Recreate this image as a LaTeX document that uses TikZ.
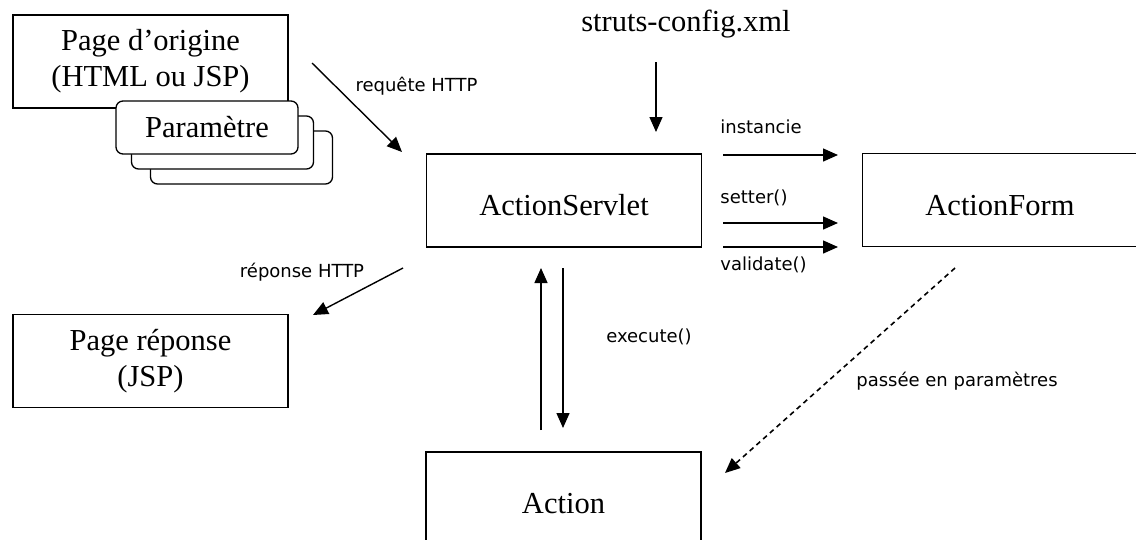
\documentclass[tikz,border=0pt]{standalone}
\usepackage{fontspec}
\setmainfont{Liberation Serif}
\newfontfamily\lblfont{DejaVu Sans}
\usetikzlibrary{arrows.meta}
\begin{document}
\begin{tikzpicture}[x=1pt,y=-1pt,
  box/.style={draw, line width=1.3pt, minimum width=275pt, minimum height=93pt, inner sep=0pt, align=center, font=\fontsize{30.5}{36}\selectfont},
  onebox/.style={box, text height=30pt, text depth=0pt},
  parbox/.style={draw, fill=white, rounded corners=7pt, line width=1.3pt, minimum width=182pt, minimum height=53pt, inner sep=0pt, font=\fontsize{30.5}{36}\selectfont},
  lbl/.style={font=\lblfont\fontsize{18}{22}\selectfont, anchor=base, inner sep=0pt},
  serifl/.style={font=\fontsize{30.5}{36}\selectfont, anchor=base, inner sep=0pt},
  arr/.style={line width=1.4pt, -{Triangle[length=15pt,width=13pt]}},
  dasharr/.style={arr, line width=1.6pt, dash pattern=on 5pt off 4pt},
]
\clip (0,0) rectangle (1136,539);
\useasboundingbox (0,0) rectangle (1136,539);

% boxes
\node[box] (orig) at (150.5,61.5) {Page d’origine\\(HTML ou JSP)};
\node[parbox] (p3) at (241.5,157.5) {};
\node[parbox] (p2) at (222.5,142.5) {};
\node[parbox] (p1) at (207,127.5) {Paramètre};
\node[onebox] (servlet) at (564,200.5) {ActionServlet};
\node[onebox] (form) at (1000,200) {ActionForm};
\node[box] (rep) at (150.5,361) {Page réponse\\(JSP)};
\node[onebox] (action) at (563.5,498.5) {Action};
\node[serifl] (cfg) at (686,31) {struts-config.xml};

% connector end points
\coordinate (reqS) at (312,63);
\coordinate (reqE) at (402,152);
\coordinate (cfgS) at (656,62);
\coordinate (cfgE) at (656,132);
\coordinate (instS) at (723,155);
\coordinate (instE) at (838,155);
\coordinate (setS) at (723,223);
\coordinate (setE) at (838,223);
\coordinate (valS) at (723,247);
\coordinate (valE) at (838,247);
\coordinate (repS) at (403,268);
\coordinate (repE) at (313,315);
\coordinate (upS) at (541,430);
\coordinate (upE) at (541,268);
\coordinate (dnS) at (563,268);
\coordinate (dnE) at (563,428);
\coordinate (paS) at (955,268);
\coordinate (paE) at (725,473);

% connectors
\draw[arr] (reqS) -- (reqE);
\draw[arr] (cfgS) -- (cfgE);
\draw[arr] (instS) -- (instE);
\draw[arr] (setS) -- (setE);
\draw[arr] (valS) -- (valE);
\draw[arr] (repS) -- (repE);
\draw[arr] (upS) -- (upE);
\draw[arr] (dnS) -- (dnE);
\draw[dasharr] (paS) -- (paE);

% labels
\node[lbl] (lreq) at (416.5,91) {requête HTTP};
\node[lbl] (linst) at (761,133) {instancie};
\node[lbl] (lset) at (754,203) {setter()};
\node[lbl] (lval) at (763.5,270) {validate()};
\node[lbl] (lexe) at (649,342) {execute()};
\node[lbl] (lpa) at (957,386) {passée en paramètres};
\node[lbl] (lrep) at (302,277) {réponse HTTP};
\end{tikzpicture}
\end{document}
